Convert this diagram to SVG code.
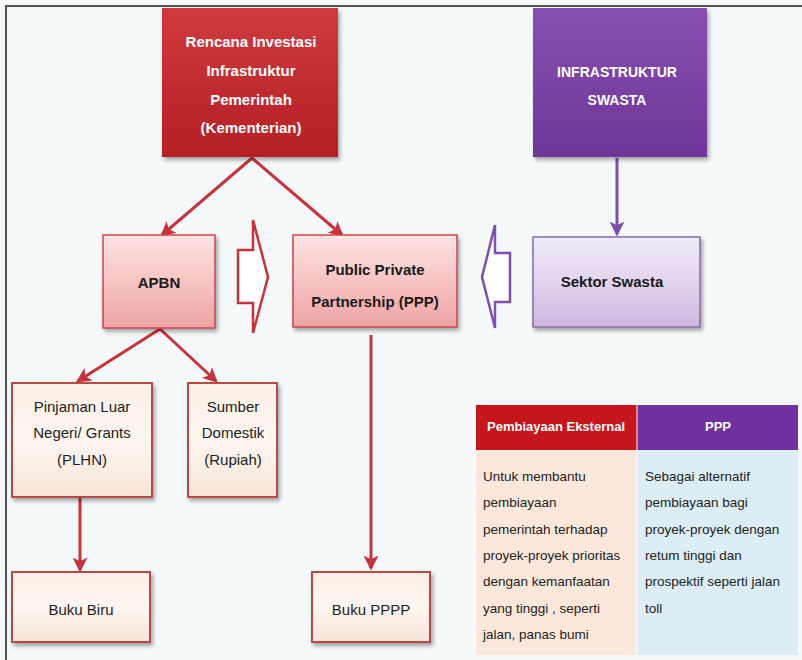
<svg xmlns="http://www.w3.org/2000/svg" width="802" height="660" viewBox="0 0 802 660">
<defs>
<linearGradient id="gRed" x1="0" y1="0" x2="0" y2="1"><stop offset="0" stop-color="#cf3a3e"/><stop offset="1" stop-color="#b51f25"/></linearGradient>
<linearGradient id="gPur" x1="0" y1="0" x2="0" y2="1"><stop offset="0" stop-color="#8650b0"/><stop offset="1" stop-color="#6f3598"/></linearGradient>
<linearGradient id="gPink" x1="0" y1="0" x2="0" y2="1"><stop offset="0" stop-color="#fde4e4"/><stop offset="0.5" stop-color="#f7c4c4"/><stop offset="1" stop-color="#eea3a3"/></linearGradient>
<linearGradient id="gLav" x1="0" y1="0" x2="0" y2="1"><stop offset="0" stop-color="#f1eaf7"/><stop offset="0.5" stop-color="#e2d4ee"/><stop offset="1" stop-color="#cdb6e0"/></linearGradient>
<linearGradient id="gCream" x1="0" y1="0" x2="0" y2="1"><stop offset="0" stop-color="#fbefe6"/><stop offset="0.5" stop-color="#fdf6f0"/><stop offset="1" stop-color="#f6e4d8"/></linearGradient>
<filter id="sh" x="-10%" y="-10%" width="125%" height="130%"><feDropShadow dx="2" dy="3" stdDeviation="2" flood-color="#000" flood-opacity="0.35"/></filter>
<marker id="aR" viewBox="0 0 12 12" refX="10" refY="6" markerWidth="5" markerHeight="5" markerUnits="strokeWidth" orient="auto"><path d="M0,0 L12,6 L0,12 L3,6 Z" fill="#c8323b"/></marker>
<marker id="aP" viewBox="0 0 12 12" refX="10" refY="6" markerWidth="5" markerHeight="5" markerUnits="strokeWidth" orient="auto"><path d="M0,0 L12,6 L0,12 L3,6 Z" fill="#7f4fb0"/></marker>
<style>
text{font-family:"Liberation Sans",Arial,sans-serif;text-anchor:middle}
.wb{fill:#fff;font-weight:bold;font-size:15px}
.db{fill:#1a1a1a;font-weight:bold;font-size:15px}
.dr{fill:#222;font-size:15px}
.tb{fill:#222;font-size:13.5px;text-anchor:start}
.th{fill:#fff;font-weight:bold;font-size:13px}
.cr{stroke:#c8323b;stroke-width:3;fill:none;marker-end:url(#aR)}
.cp{stroke:#7f4fb0;stroke-width:3;fill:none;marker-end:url(#aP)}
</style>
</defs>
<rect x="0" y="0" width="802" height="660" fill="#f6f9fa"/>
<path d="M6,660 L6,6 L802,6" fill="none" stroke="#555" stroke-width="2"/>

<g id="connectors">
<line class="cr" x1="252" y1="158" x2="162" y2="235"/>
<line class="cr" x1="252" y1="158" x2="342" y2="235"/>
<line class="cp" x1="617" y1="158" x2="617" y2="234"/>
<line class="cr" x1="160" y1="329" x2="78" y2="381"/>
<line class="cr" x1="160" y1="329" x2="216" y2="381"/>
<line class="cr" x1="80" y1="498" x2="80" y2="570"/>
<line class="cr" x1="371" y1="335" x2="371" y2="568"/>
<polygon points="238,250 253,250 253,220 268,277 253,333 253,303 238,303" fill="#fff" stroke="#c8323b" stroke-width="2.5" stroke-linejoin="miter"/>
<polygon points="510,253 495,253 495,225 482,277 495,328 495,302 510,302" fill="#fff" stroke="#7f4fb0" stroke-width="2.5" stroke-linejoin="miter"/>
</g>

<g id="rencana">
<rect x="162" y="8" width="176" height="149" fill="url(#gRed)" filter="url(#sh)"/>
<text class="wb" x="251" y="47">Rencana Investasi</text>
<text class="wb" x="251" y="76">Infrastruktur</text>
<text class="wb" x="251" y="105">Pemerintah</text>
<text class="wb" x="251" y="133">(Kementerian)</text>
</g>

<g id="infra-swasta">
<rect x="533" y="8" width="174" height="149" fill="url(#gPur)" filter="url(#sh)"/>
<text class="wb" x="617" y="77" style="font-size:14px">INFRASTRUKTUR</text>
<text class="wb" x="617" y="105" style="font-size:14px">SWASTA</text>
</g>

<g id="apbn">
<rect x="103" y="235" width="112" height="93" fill="url(#gPink)" stroke="#c8464a" stroke-width="1.5" filter="url(#sh)"/>
<text class="db" x="159" y="288">APBN</text>
</g>

<g id="ppp">
<rect x="293" y="235" width="164" height="92" fill="url(#gPink)" stroke="#c8464a" stroke-width="1.5" filter="url(#sh)"/>
<text class="db" x="375" y="275">Public Private</text>
<text class="db" x="375" y="307">Partnership (PPP)</text>
</g>

<g id="sektor-swasta">
<rect x="533" y="237" width="167" height="90" fill="url(#gLav)" stroke="#8a6aaa" stroke-width="1.5" filter="url(#sh)"/>
<text class="db" x="612" y="287">Sektor Swasta</text>
</g>

<g id="plhn">
<rect x="12" y="383" width="140" height="114" fill="url(#gCream)" stroke="#b8484a" stroke-width="2" filter="url(#sh)"/>
<text class="dr" x="82" y="412">Pinjaman Luar</text>
<text class="dr" x="82" y="438">Negeri/ Grants</text>
<text class="dr" x="82" y="465">(PLHN)</text>
</g>

<g id="sumber">
<rect x="188" y="383" width="89" height="114" fill="url(#gCream)" stroke="#b8484a" stroke-width="2" filter="url(#sh)"/>
<text class="dr" x="233" y="412">Sumber</text>
<text class="dr" x="233" y="438">Domestik</text>
<text class="dr" x="233" y="465">(Rupiah)</text>
</g>

<g id="buku-biru">
<rect x="12" y="572" width="138" height="70" fill="url(#gCream)" stroke="#b8484a" stroke-width="2" filter="url(#sh)"/>
<text class="dr" x="81" y="615">Buku Biru</text>
</g>

<g id="buku-pppp">
<rect x="312" y="572" width="118" height="70" fill="url(#gCream)" stroke="#b8484a" stroke-width="2" filter="url(#sh)"/>
<text class="dr" x="371" y="615">Buku PPPP</text>
</g>

<g id="table">
<rect x="476" y="450" width="161" height="205" fill="#fbe8db"/>
<rect x="637" y="450" width="161" height="205" fill="#dcedf6"/>
<rect x="476" y="405" width="161" height="45" fill="#c4161c"/>
<rect x="637" y="405" width="161" height="45" fill="#7030a0"/>
<line x1="637" y1="405" x2="637" y2="655" stroke="#fff" stroke-width="1"/>
<text class="th" x="556" y="431">Pembiayaan Eksternal</text>
<text class="th" x="718" y="431">PPP</text>
<text class="tb" x="483" y="481">Untuk membantu</text>
<text class="tb" x="483" y="507">pembiayaan</text>
<text class="tb" x="483" y="534">pemerintah terhadap</text>
<text class="tb" x="483" y="560">proyek-proyek prioritas</text>
<text class="tb" x="483" y="586">dengan kemanfaatan</text>
<text class="tb" x="483" y="613">yang tinggi , seperti</text>
<text class="tb" x="483" y="639">jalan, panas bumi</text>
<text class="tb" x="645" y="481">Sebagai alternatif</text>
<text class="tb" x="645" y="507">pembiayaan bagi</text>
<text class="tb" x="645" y="534">proyek-proyek dengan</text>
<text class="tb" x="645" y="560">retum tinggi dan</text>
<text class="tb" x="645" y="586">prospektif seperti jalan</text>
<text class="tb" x="645" y="613">toll</text>
</g>
</svg>
